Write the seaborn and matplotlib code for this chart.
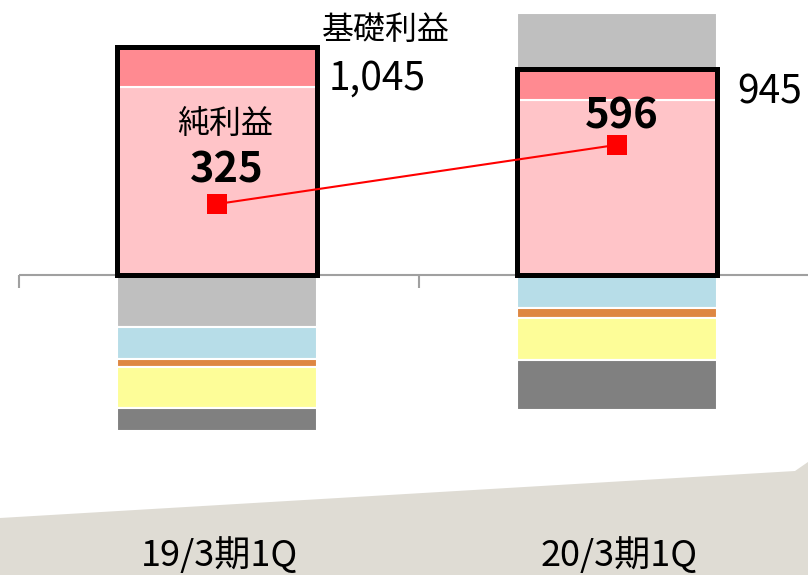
import numpy as np
import matplotlib
matplotlib.use("Agg")
import matplotlib.pyplot as plt
from matplotlib.patches import Polygon
import seaborn as sns

# データ（単位：億円相当、画像から読み取り）
cats = ['19/3期1Q', '20/3期1Q']
net_profit = [325, 596]
base_profit = [1045, 945]

# プラス側の内訳
pos_light_pink = [862, 803]
pos_dark_pink = [183, 142]
pos_gray = [0, 254]

# マイナス側の内訳（上から順に）
neg_gray = [-236, 0]
neg_blue = [-149, -153]
neg_orange = [-37, -43]
neg_yellow = [-188, -192]
neg_dark = [-105, -231]

sns.set_theme(style="white")
plt.rcParams['font.family'] = ['Noto Sans CJK JP', 'DejaVu Sans']

fig = plt.figure(figsize=(8.08, 5.75), dpi=100)
fig.patch.set_facecolor('white')

# 背景の帯
band = Polygon([(0, 0), (0, 1 - 518 / 575), (795 / 808, 1 - 471 / 575),
                (1, 1 - 462 / 575), (1, 0)], closed=True,
               transform=fig.transFigure, facecolor='#DFDCD4', edgecolor='none', zorder=0)
fig.patches.append(band)

ax = fig.add_axes([0, 0, 1, 1])
ax.set_facecolor('none')
ax.set_zorder(1)

bw = 0.5
edge_kw = dict(edgecolor='white', linewidth=1.5, saturation=1, width=bw, order=cats)

# プラス側の積み上げ
cum = np.zeros(2)
for vals, col in [(pos_light_pink, '#FFC4C8'), (pos_dark_pink, '#FF8A91'), (pos_gray, '#BFBFBF')]:
    sns.barplot(x=cats, y=vals, bottom=cum.copy(), color=col, ax=ax, zorder=2, **edge_kw)
    cum += np.array(vals)

# マイナス側の積み上げ
cum = np.zeros(2)
for vals, col in [(neg_gray, '#BFBFBF'), (neg_blue, '#B7DDE8'), (neg_orange, '#DE8742'),
                  (neg_yellow, '#FDFD98'), (neg_dark, '#808080')]:
    sns.barplot(x=cats, y=vals, bottom=cum.copy(), color=col, ax=ax, zorder=2, **edge_kw)
    cum += np.array(vals)

# 基礎利益の枠
sns.barplot(x=cats, y=base_profit, order=cats, fill=False, color='black',
            linewidth=3.6, width=bw, ax=ax, zorder=3)

# 純利益の折れ線
sns.lineplot(x=cats, y=net_profit, color='red', linewidth=1.5, marker='s',
             markersize=15, markeredgewidth=0, ax=ax, zorder=4)

# ゼロ線と区切り目盛り
ax.hlines(0, -0.495, 1.6, color='#A0A0A0', linewidth=1.5, zorder=1)
ax.vlines([-0.495, 0.505], -58, 0, color='#A0A0A0', linewidth=1.5, zorder=1)

ax.set_xlim(-0.5425, 1.4775)
ax.set_ylim(-1373, 1259)
ax.set_xticks([])
ax.set_yticks([])
ax.set_xlabel('')
ax.set_ylabel('')
for s in ax.spines.values():
    s.set_visible(False)

# ラベル
ax.text(0.4225, 1121, '基礎利益', ha='center', va='center', fontsize=23, color='black')
ax.text(0.28, 898, f'{base_profit[0]:,}', ha='left', va='center', fontsize=28, color='black')
ax.text(1.30, 834, f'{base_profit[1]:,}', ha='left', va='center', fontsize=28, color='black')
ax.text(0.02, 691, '純利益', ha='center', va='center', fontsize=23, color='black')
ax.text(0.025, 477, f'{net_profit[0]}', ha='center', va='center', fontsize=30,
        fontweight='bold', color='black', zorder=5)
ax.text(1.0125, 728, f'{net_profit[1]}', ha='center', va='center', fontsize=30,
        fontweight='bold', color='black', zorder=5)
for i, c in enumerate(cats):
    ax.text(i + 0.005, -1285, c, ha='center', va='center', fontsize=26, color='black')

fig.savefig('out.png', dpi=100)
